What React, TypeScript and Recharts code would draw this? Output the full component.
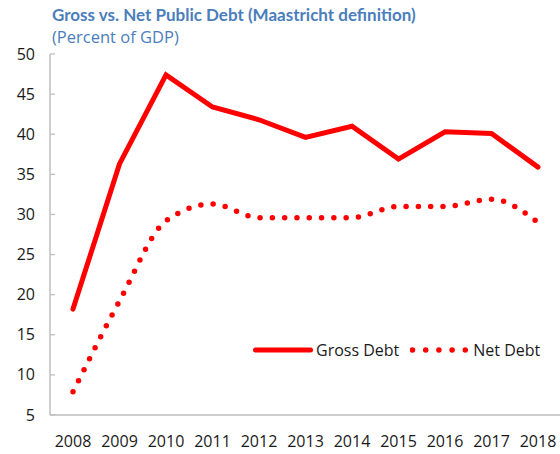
import React from 'react';
import { LineChart, Line, XAxis, YAxis, Legend } from 'recharts';

const years = ['2008', '2009', '2010', '2011', '2012', '2013', '2014', '2015', '2016', '2017', '2018'];
const grossDebt = [18.2, 36.3, 47.4, 43.4, 41.8, 39.6, 41.0, 36.9, 40.3, 40.1, 35.9];
const netDebt = [7.9, 19.2, 29.2, 31.3, 29.6, 29.6, 29.6, 31.0, 31.0, 31.9, 29.0];
const yTicks = [5, 10, 15, 20, 25, 30, 35, 40, 45, 50];

const titleText = 'Gross vs. Net Public Debt (Maastricht definition)';
const subtitleText = '(Percent of GDP)';
const grossLabel = 'Gross Debt';
const netLabel = 'Net Debt';

const data = years.map((year, i) => ({ year, gross: grossDebt[i], net: netDebt[i] }));

const RED = '#FF0000';
const AXIS = '#BFBFBF';
const BLUE = '#4A7EBB';
const FONT = '"Open Sans", "Noto Sans", sans-serif';

const Y_MARGIN = 15;

const YTick = (props: any) => {
  const { x, y, payload } = props;
  const ax = x + Y_MARGIN;
  return (
    <g>
      <line x1={ax} x2={ax + 5} y1={y} y2={y} stroke={AXIS} strokeWidth={1.3} />
      <text x={x} y={y} dy="0.35em" textAnchor="end" fill="#1a1a1a" fontSize={16} fontFamily={FONT}>
        {payload.value}
      </text>
    </g>
  );
};

const LegendContent = () => (
  <div style={{ display: 'flex', alignItems: 'center', fontFamily: FONT, fontSize: 16, color: '#1a1a1a', height: 22 }}>
    <svg width={60} height={10} style={{ display: 'block' }}>
      <line x1={2.5} x2={57.5} y1={5} y2={5} stroke={RED} strokeWidth={5} strokeLinecap="round" />
    </svg>
    <span style={{ marginLeft: 3, whiteSpace: 'nowrap' }}>{grossLabel}</span>
    <svg width={58} height={10} style={{ display: 'block', marginLeft: 11 }}>
      <line x1={2.5} x2={55.5} y1={5} y2={5} stroke={RED} strokeWidth={5.5} strokeLinecap="round" strokeDasharray="0 13.2" />
    </svg>
    <span style={{ marginLeft: 5, whiteSpace: 'nowrap' }}>{netLabel}</span>
  </div>
);

export default function App() {
  return (
    <div style={{ position: 'relative', width: 560, height: 454, background: '#fff' }}>
      <style>{`body{margin:0}`}</style>
      <LineChart
        width={560}
        height={454}
        data={data}
        margin={{ top: 54, right: 0, bottom: 0, left: 0 }}
        style={{ position: 'absolute', left: 0, top: 0 }}
      >
        <XAxis
          dataKey="year"
          height={39}
          axisLine={{ stroke: AXIS, strokeWidth: 1.5 }}
          tickLine={false}
          tickSize={0}
          tickMargin={21}
          padding={{ left: 23, right: 22 }}
          tick={{ fill: '#1a1a1a', fontSize: 16, fontFamily: FONT }}
          interval={0}
        />
        <YAxis
          width={50}
          domain={[5, 50]}
          ticks={yTicks}
          allowDataOverflow
          axisLine={{ stroke: AXIS, strokeWidth: 1.5 }}
          tickLine={false}
          tickSize={0}
          tickMargin={Y_MARGIN}
          tick={<YTick />}
          interval={0}
        />
        <Legend
          layout="horizontal"
          verticalAlign="middle"
          align="center"
          content={<LegendContent />}
          wrapperStyle={{ left: 253, top: 339, width: 300, height: 22 }}
        />
        <Line
          type="linear"
          dataKey="gross"
          name={grossLabel}
          stroke={RED}
          strokeWidth={5}
          strokeLinecap="round"
          dot={false}
          activeDot={false}
          isAnimationActive={false}
        />
        <Line
          type="monotone"
          dataKey="net"
          name={netLabel}
          stroke={RED}
          strokeWidth={5.5}
          strokeLinecap="round"
          strokeDasharray="0 12.3"
          dot={false}
          activeDot={false}
          isAnimationActive={false}
        />
      </LineChart>
      <svg width={560} height={50} style={{ position: 'absolute', left: 0, top: 0, pointerEvents: 'none' }}>
        <text x={52} y={20.7} fill={BLUE} fontSize={17} fontWeight="bold" fontFamily="Lato, sans-serif">
          {titleText}
        </text>
        <text x={52} y={42.7} fill={BLUE} fontSize={16.5} fontFamily={FONT}>
          {subtitleText}
        </text>
      </svg>
    </div>
  );
}
